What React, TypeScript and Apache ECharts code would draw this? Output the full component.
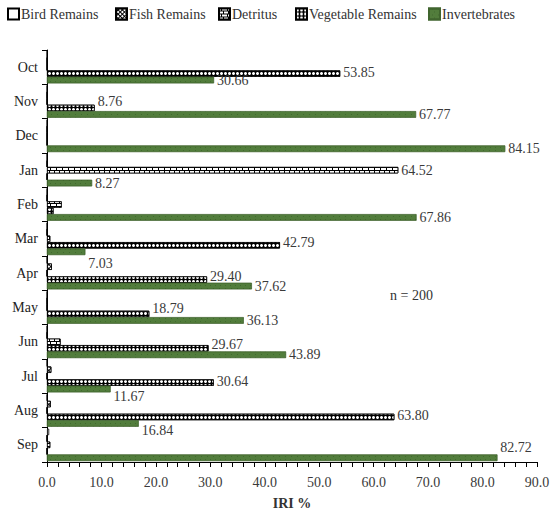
import React, { useEffect, useRef } from "react";
import * as echarts from "echarts";

const months = ["Oct", "Nov", "Dec", "Jan", "Feb", "Mar", "Apr", "May", "Jun", "Jul", "Aug", "Sep"];
const seriesNames = ["Bird Remains", "Fish Remains", "Detritus", "Vegetable Remains", "Invertebrates"];
const birdRemains = [0, 0, 0, 0, 0, 0, 0, 0, 0, 0, 0, 0.4];
const fishRemains = [0, 0, 0, 0, 0, 0, 0.9, 0, 0, 0.8, 0.7, 0];
const detritus = [0, 0, 0, 64.52, 2.7, 0.6, 0, 0, 2.5, 0, 0, 0.6];
const vegetableRemains = [53.85, 8.76, 0, 0, 1.2, 42.79, 29.4, 18.79, 29.67, 30.64, 63.8, 0];
const invertebrates = [30.66, 67.77, 84.15, 8.27, 67.86, 7.03, 37.62, 36.13, 43.89, 11.67, 16.84, 82.72];
const xTicks = { min: 0, max: 90, interval: 10 };
const noteText = "n = 200";

// label vertical nudges (null = no label)
const detritusLabelDy: (number | null)[] = [null, null, null, 0, null, null, null, null, null, null, null, null];
const vegetableLabelDy: (number | null)[] = [-1, -6, null, null, null, -3, -3, -5, -4, -1, -1, null];
const invertLabelDy: (number | null)[] = [0, 0, 0, 0, 0, 12, 0, 0, 0, 7, 7, -10];
const noLabel: (number | null)[] = months.map(() => null);

const FONT = '"Liberation Serif", "DejaVu Serif", serif';

function items(values: number[], dys: (number | null)[]) {
  return values.map((v, i) => {
    const dy = dys[i];
    return dy === null
      ? { value: v, label: { show: false } }
      : { value: v, label: { show: true, offset: [0, dy] } };
  });
}

export default function App() {
  const ref = useRef<HTMLDivElement>(null);
  useEffect(() => {
    if (!ref.current) return;
    const chart = echarts.init(ref.current, null, { renderer: "svg" });
    const labelCommon = {
      position: "right",
      distance: 3,
      fontFamily: FONT,
      fontSize: 14,
      color: "#3a3a3a",
      formatter: (p: any) => Number(p.value).toFixed(2),
    };
    const styles = [
      { color: "#ffffff", borderColor: "#000", borderWidth: 0.8 },
      {
        color: "#000000",
        borderColor: "#000",
        borderWidth: 0.8,
        decal: {
          symbol: "rect",
          symbolSize: 1,
          color: "#ffffff",
          dashArrayX: [1.6, 1],
          dashArrayY: [1.6, 1],
          rotation: Math.PI / 4,
        },
      },
      {
        color: "#000000",
        borderColor: "#000",
        borderWidth: 0.8,
        decal: {
          symbol: "rect",
          symbolSize: 1,
          color: "#ffffff",
          dashArrayX: [[4, 1], [1.5, 1, 2.5, 0]],
          dashArrayY: [2, 1],
        },
      },
      {
        color: "#000000",
        borderColor: "#000",
        borderWidth: 0.8,
        decal: {
          symbol: "circle",
          symbolSize: 1,
          color: "#ffffff",
          dashArrayX: [2.9, 0.6],
          dashArrayY: [2.9, 0.4],
        },
      },
      {
        color: "#527d3c",
        borderColor: "#40652e",
        borderWidth: 0.5,
        decal: {
          symbol: "rect",
          symbolSize: 0.8,
          color: "rgba(35,70,25,0.45)",
          dashArrayX: [[1, 4], [0, 2.5, 1, 1.5]],
          dashArrayY: [1, 1.5],
        },
      },
    ];
    const dataSets = [
      items(birdRemains, noLabel),
      items(fishRemains, noLabel),
      items(detritus, detritusLabelDy),
      items(vegetableRemains, vegetableLabelDy),
      items(invertebrates, invertLabelDy),
    ];
    const legendLefts = [2, 110, 213, 290, 423];
    chart.setOption({
      animation: false,
      textStyle: { fontFamily: FONT },
      legend: seriesNames.map((n, i) => ({
        data: [n],
        left: legendLefts[i],
        top: 2,
        itemWidth: 11,
        itemHeight: 11,
        icon: "rect",
        textStyle: { fontFamily: FONT, fontSize: 14, color: "#333", padding: [0, 0, 0, -3] },
        selectedMode: false,
      })),
      grid: { left: 47, right: 23, top: 50, bottom: 55, containLabel: false },
      xAxis: {
        type: "value",
        min: xTicks.min,
        max: xTicks.max,
        interval: xTicks.interval,
        name: "IRI %",
        nameLocation: "middle",
        nameGap: 34,
        nameTextStyle: { fontFamily: FONT, fontSize: 14, fontWeight: "bold", color: "#333" },
        axisLine: { show: true, lineStyle: { color: "#000", width: 1 } },
        axisTick: { show: true, length: 5, lineStyle: { color: "#000" } },
        minorTick: { show: true, splitNumber: 5, length: 5, lineStyle: { color: "#000" } },
        splitLine: { show: false },
        axisLabel: {
          fontFamily: FONT,
          fontSize: 14,
          color: "#3a3a3a",
          margin: 13,
          formatter: (v: number) => v.toFixed(1),
        },
      },
      yAxis: {
        type: "category",
        inverse: true,
        data: months,
        axisLine: { show: true, lineStyle: { color: "#000", width: 1 } },
        axisTick: { show: true, length: 5, lineStyle: { color: "#000" } },
        axisLabel: { fontFamily: FONT, fontSize: 14, color: "#222", margin: 9 },
      },
      graphic: [
        {
          type: "text",
          left: 390,
          top: 288,
          style: { text: noteText, font: `14px ${FONT}`, fill: "#333" },
        },
      ],
      series: seriesNames.map((n, i) => ({
        name: n,
        type: "bar",
        data: dataSets[i],
        barGap: "0%",
        barCategoryGap: "6%",
        itemStyle: styles[i],
        label: labelCommon,
      })),
    });
    return () => chart.dispose();
  }, []);
  return (
    <div
      ref={ref}
      style={{ position: "absolute", left: 0, top: 0, width: 560, height: 517, background: "#fff" }}
    />
  );
}
